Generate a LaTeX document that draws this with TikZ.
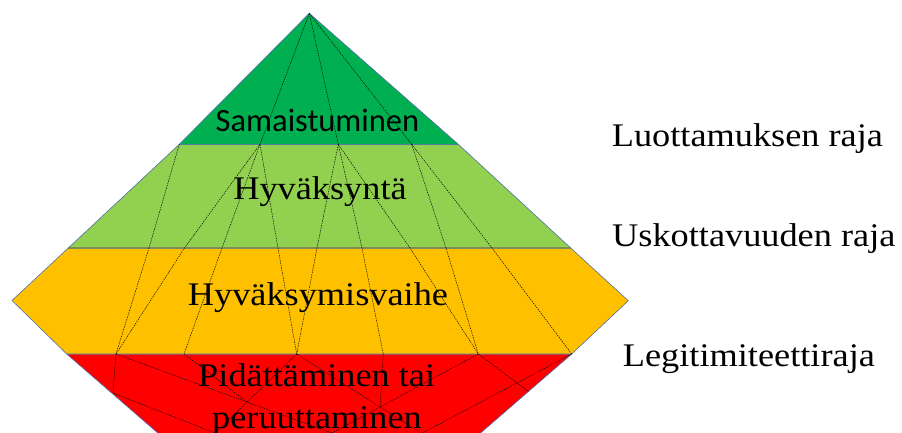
\documentclass[tikz,border=0pt]{standalone}
\usepackage{fontspec}
\setmainfont[FakeStretch=1.1]{Liberation Serif}
\newfontfamily\calib{Carlito}
\definecolor{dkgreen}{RGB}{0,176,80}
\definecolor{ltgreen}{RGB}{146,208,80}
\definecolor{orng}{RGB}{255,192,0}
\definecolor{rd}{RGB}{255,0,0}
\definecolor{edge}{RGB}{80,110,170}
\definecolor{olive}{RGB}{125,140,85}
\tikzset{
  band/.style={draw=edge, line width=0.6pt, line join=miter},
  mesh/.style={draw=black, line width=0.45pt, dash pattern=on 1.5pt off 1pt},
  lbl/.style={font=\fontsize{33}{40}\selectfont, anchor=base, inner sep=0pt},
  side/.style={font=\fontsize{33}{40}\selectfont, anchor=base west, inner sep=0pt}
}
\begin{document}
\begin{tikzpicture}[x=1pt,y=-1pt]
\useasboundingbox (0,0) rectangle (902,432);
\clip (0,0) rectangle (902,432);
% outline points
\coordinate (A) at (309.3,13.3);
\coordinate (c1L) at (179.3,144.3);
\coordinate (c1R) at (458.3,144.3);
\coordinate (c2L) at (68.3,248);
\coordinate (c2R) at (570.7,248);
\coordinate (hxL) at (12,300.5);
\coordinate (hxR) at (628.3,300.7);
\coordinate (c3L) at (66.7,354);
\coordinate (c3R) at (571.7,354);
\coordinate (rbL) at (165.9,440);
\coordinate (rbR) at (472.5,440);
% bands
\path[band, fill=rd] (c3L) -- (c3R) -- (rbR) -- (rbL) -- cycle;
\path[band, fill=orng] (c2L) -- (c2R) -- (hxR) -- (c3R) -- (c3L) -- (hxL) -- cycle;
\path[band, fill=ltgreen] (c1L) -- (c1R) -- (c2R) -- (c2L) -- cycle;
\path[band, fill=dkgreen] (A) -- (c1R) -- (c1L) -- cycle;
\draw[olive, line width=1.2pt] (c2L) -- (c2R);
% mesh points level 1
\coordinate (p1b) at (260,144.3);
\coordinate (p1c) at (338.3,144.3);
\coordinate (p1d) at (411.7,144.3);
% level 2
\coordinate (q1) at (149,248);
\coordinate (q2) at (184.5,248);
\coordinate (q3) at (222,248);
\coordinate (q4) at (278,248);
\coordinate (q5) at (317,248);
\coordinate (q6) at (362,248);
\coordinate (q7) at (410,248);
\coordinate (q8) at (446,248);
\coordinate (q9) at (492,248);
% level 3
\coordinate (t1) at (116,354);
\coordinate (t2) at (184,354);
\coordinate (t3) at (296.7,354);
\coordinate (t4) at (383.3,354);
\coordinate (t5) at (478.3,354);
% red interior
\coordinate (L1) at (113,393);
\coordinate (M1) at (247,402);
\coordinate (M2) at (380,407);
\coordinate (P) at (517,383);
\coordinate (R1) at (528.4,391.7);
\coordinate (e1) at (233,440);
\coordinate (e2) at (208,440);
\coordinate (e3) at (351,440);
\coordinate (e4) at (432,440);
\coordinate (e5) at (319,440);
\coordinate (e6) at (409,440);
% mesh lines
\draw[mesh] (A) -- (p1b);
\draw[mesh] (A) -- (p1c);
\draw[mesh] (A) -- (p1d);
\draw[mesh] (c1L) -- (q1) -- (t1);
\draw[mesh] (p1b) -- (q2) -- (t1);
\draw[mesh] (p1b) -- (q3) -- (t2);
\draw[mesh] (p1b) -- (q4) -- (t3);
\draw[mesh] (p1c) -- (q5) -- (t3);
\draw[mesh] (p1c) -- (q6) -- (t4);
\draw[mesh] (p1c) -- (q7) -- (t5);
\draw[mesh] (p1d) -- (q8) -- (t5);
\draw[mesh] (p1d) -- (q9) -- (c3R);
\draw[mesh] (t1) -- (L1) -- (e1);
\draw[mesh] (t1) -- (M1) -- (e3);
\draw[mesh] (t2) -- (M1);
\draw[mesh] (t3) -- (M1) -- (e2);
\draw[mesh] (t3) -- (M2) -- (e4);
\draw[mesh] (t4) -- (M2);
\draw[mesh] (t5) -- (M2) -- (e5);
\draw[mesh] (t5) -- (P) -- (R1);
\draw[mesh] (c3R) -- (P) -- (e6);
% labels
\node[font=\calib\fontsize{32.5}{39}\selectfont, anchor=base, inner sep=0pt] (sam) at (317.5,131) {Samaistuminen};
\node[lbl] (hyv) at (320,199) {Hyväksyntä};
\node[lbl] (hyvv) at (318,305.5) {Hyväksymisvaihe};
\node[lbl] (pid) at (316.7,386.7) {Pidättäminen tai};
\node[lbl] (per) at (317,428.5) {peruuttaminen};
\node[side] (luo) at (611.7,146.7) {Luottamuksen raja};
\node[side] (usk) at (612,246.7) {Uskottavuuden raja};
\node[side] (leg) at (622.7,366.7) {Legitimiteettiraja};
\end{tikzpicture}
\end{document}
